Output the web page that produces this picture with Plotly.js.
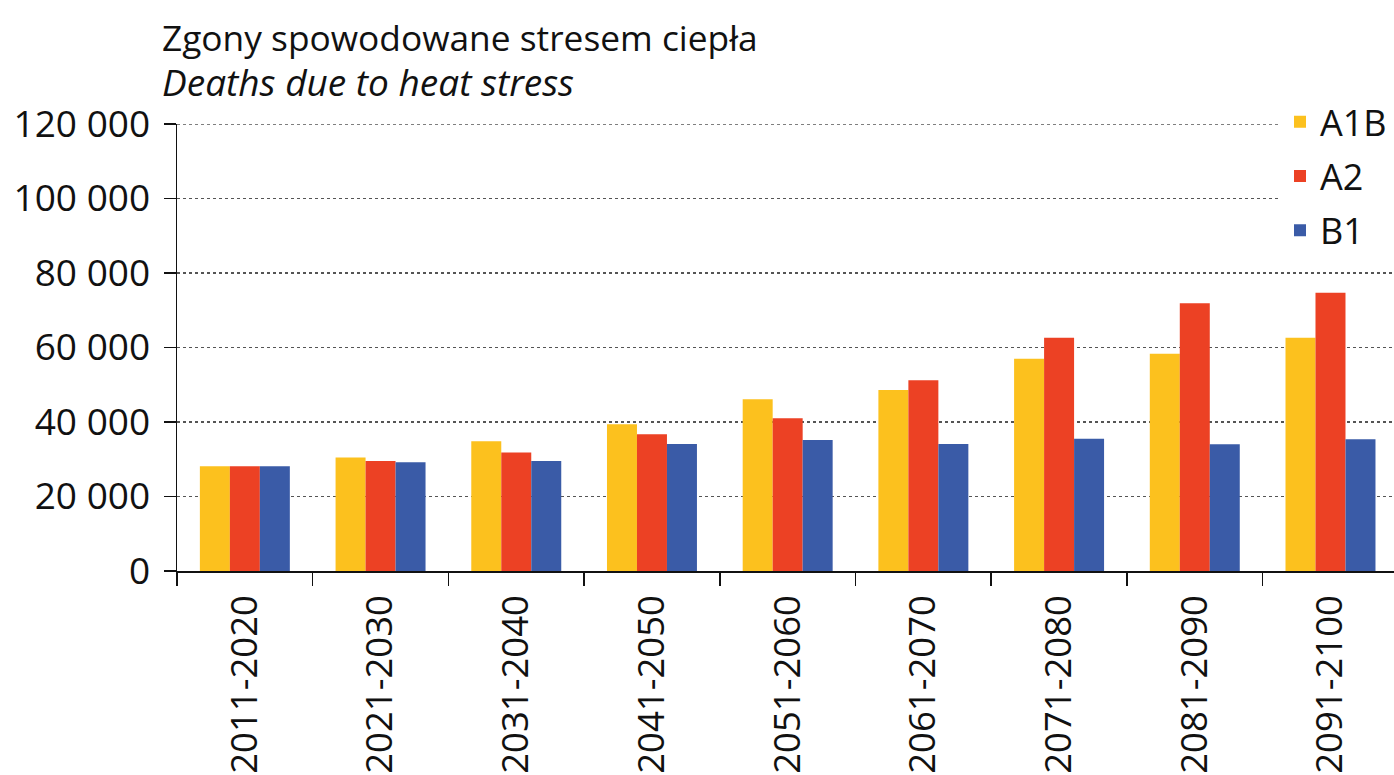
<!DOCTYPE html>
<html>
<head>
<meta charset="utf-8">
<script src="https://cdn.plot.ly/plotly-3.0.1.min.js"></script>
<style>html,body{margin:0;padding:0;background:#fff;}#chart{width:1394px;height:775px;}</style>
</head>
<body>
<div id="chart"></div>
<script>
const categories = ["2011-2020","2021-2030","2031-2040","2041-2050","2051-2060","2061-2070","2071-2080","2081-2090","2091-2100"];
const seriesNames = ["A1B","A2","B1"];
const valuesA1B = [28100, 30500, 34800, 39400, 46100, 48600, 57000, 58300, 62600];
const valuesA2  = [28100, 29500, 31800, 36700, 41000, 51200, 62600, 71900, 74700];
const valuesB1  = [28100, 29200, 29500, 34100, 35200, 34100, 35500, 34000, 35400];
const colors = ["#FCC11E", "#EC4124", "#3A5BA7"];
const yTicks = [0, 20000, 40000, 60000, 80000, 100000, 120000];
const yMax = 120000;
const titleLine1 = "Zgony spowodowane stresem ciepła";
const titleLine2 = "Deaths due to heat stress";

const allValues = [valuesA1B, valuesA2, valuesB1];
const traces = allValues.map((vals, i) => ({
  type: 'bar',
  name: seriesNames[i],
  x: categories,
  y: vals,
  marker: {color: colors[i]},
  legendgroup: seriesNames[i],
  hoverinfo: 'x+y+name'
}));

const FONT = '"Open Sans", sans-serif';
const plotLeft = 177, plotTop = 124, plotBottom = 571, plotWidth = 1394 - 177;
const plotHeight = plotBottom - plotTop;
const px2x = px => (px - plotLeft) / plotWidth;
const px2y = py => (plotBottom - py) / plotHeight;

const layout = {
  width: 1394, height: 775,
  margin: {l: plotLeft, r: 0, t: plotTop, b: 775 - plotBottom, pad: 0},
  paper_bgcolor: '#fff', plot_bgcolor: '#fff',
  separators: ', ',
  font: {family: FONT, color: '#111', size: 35},
  barmode: 'group',
  bargap: 0.337,
  bargroupgap: 0,
  annotations: [
    {text: titleLine1, xref: 'paper', yref: 'paper', x: px2x(160), y: px2y(37),
     xanchor: 'left', yanchor: 'middle', showarrow: false,
     font: {family: FONT, size: 35.3, color: '#111'}},
    {text: '<i>' + titleLine2 + '</i>', xref: 'paper', yref: 'paper', x: px2x(160), y: px2y(81),
     xanchor: 'left', yanchor: 'middle', showarrow: false,
     font: {family: FONT, size: 37, color: '#111'}}
  ],
  shapes: [
    {type: 'line', xref: 'paper', x0: 0, x1: 1, yref: 'y', y0: yMax, y1: yMax,
     line: {color: '#555', width: 1.5, dash: 'dot'}, layer: 'below'}
  ],
  xaxis: {
    type: 'category',
    range: [-0.5, 8.468],
    tickson: 'boundaries',
    ticks: 'outside', ticklen: 13, tickwidth: 1.5, tickcolor: '#111',
    showline: true, linecolor: '#111', linewidth: 1.5,
    tickangle: -90,
    ticklabelstandoff: 8,
    tickfont: {family: FONT, size: 36.5, color: '#111'},
    showgrid: false,
    fixedrange: true
  },
  yaxis: {
    range: [0, yMax],
    tickvals: yTicks,
    tickformat: ',d',
    ticks: 'outside', ticklen: 12, tickwidth: 1.5, tickcolor: '#111',
    showline: true, linecolor: '#111', linewidth: 1.5,
    ticklabelstandoff: 6,
    tickfont: {family: FONT, size: 37, color: '#111'},
    showgrid: true, gridcolor: '#555', gridwidth: 1.5, griddash: 'dot',
    zeroline: false,
    fixedrange: true
  },
  legend: {
    x: px2x(1280), xanchor: 'left',
    y: 1.072, yanchor: 'top',
    bgcolor: '#fff',
    traceorder: 'grouped',
    tracegroupgap: 4.5,
    font: {family: FONT, size: 36, color: '#111'}
  },
  showlegend: true
};

Plotly.newPlot('chart', traces, layout, {displayModeBar: false, staticPlot: true});
</script>
</body>
</html>
